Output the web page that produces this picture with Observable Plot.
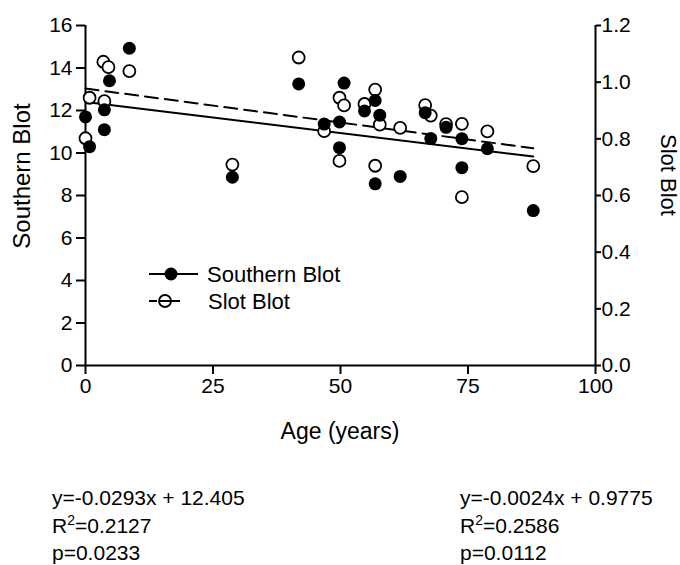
<!DOCTYPE html>
<html><head><meta charset="utf-8">
<script src="https://cdn.jsdelivr.net/npm/d3@7"></script>
<script src="https://cdn.jsdelivr.net/npm/@observablehq/plot@0.6"></script>
<style>body{margin:0;background:#fff} svg{display:block}</style>
</head><body><div id="chart"></div>
<script>
// ---- data ----
const southernAge   = [0, 0.8, 3.7, 3.7, 4.7, 8.6, 28.8, 41.8, 46.8, 49.8, 49.8, 50.7, 54.7, 56.8, 57.7, 56.8, 61.7, 66.6, 67.7, 70.7, 73.8, 73.8, 78.8, 87.8];
const southernValue = [11.7, 10.3, 12.03, 11.1, 13.4, 14.93, 8.86, 13.25, 11.36, 11.46, 10.25, 13.29, 11.98, 12.47, 11.78, 8.55, 8.9, 11.9, 10.68, 11.21, 10.67, 9.31, 10.2, 7.29];
const slotAge   = [0, 0.8, 3.5, 4.5, 3.7, 8.6, 28.8, 41.8, 46.8, 49.8, 49.8, 50.7, 54.7, 56.8, 57.7, 56.8, 61.7, 66.6, 67.7, 70.7, 73.8, 73.8, 78.8, 87.8];
const slotValue = [0.802, 0.945, 1.072, 1.053, 0.933, 1.039, 0.709, 1.087, 0.827, 0.945, 0.722, 0.918, 0.923, 0.974, 0.850, 0.705, 0.839, 0.919, 0.882, 0.852, 0.853, 0.594, 0.826, 0.704];

const xTicks = [0, 25, 50, 75, 100];
const leftTicks = [0, 2, 4, 6, 8, 10, 12, 14, 16];
const rightTicks = [0, 0.2, 0.4, 0.6, 0.8, 1.0, 1.2];
const seriesNames = ["Southern Blot", "Slot Blot"];
const fitSlope = ["-0.0293", "-0.0024"];
const fitIntercept = ["12.405", "0.9775"];
const fitR2 = ["0.2127", "0.2586"];
const fitP = ["0.0233", "0.0112"];

// ---- derived ----
const FONT = "'Liberation Sans', Arial, Helvetica, sans-serif";
const k = 16 / 1.2; // right-axis units -> left-axis units
const southern = southernAge.map((a, i) => ({age: a, value: southernValue[i]}));
const slot = slotAge.map((a, i) => ({age: a, value: slotValue[i] * k}));
const ageExtent = d3.extent(southernAge.concat(slotAge));
const fitLine = (i, f) => ageExtent.map(a => ({age: a, value: (+fitIntercept[i] + +fitSlope[i] * a) * f}));

function overlay(index, scales, values, dims) {
  const g = d3.create("svg:g").attr("font-family", FONT).attr("fill", "black").attr("text-anchor", "start");
  // axis titles
  g.append("text").attr("x", 340).attr("y", 439).attr("text-anchor", "middle").attr("font-size", 23).text("Age (years)");
  g.append("text").attr("transform", "translate(30,176) rotate(-90)").attr("text-anchor", "middle").attr("font-size", 24).text(seriesNames[0]);
  g.append("text").attr("transform", "translate(661,175) rotate(90)").attr("text-anchor", "middle").attr("font-size", 22).text(seriesNames[1]);
  // legend
  const L = g.append("g");
  L.append("line").attr("x1", 149).attr("x2", 198).attr("y1", 274).attr("y2", 274).attr("stroke", "black").attr("stroke-width", 2);
  L.append("circle").attr("cx", 171).attr("cy", 274).attr("r", 6.5).attr("fill", "black");
  L.append("text").attr("x", 207).attr("y", 274).attr("dy", "0.36em").attr("font-size", 22).text(seriesNames[0]);
  L.append("line").attr("x1", 149).attr("x2", 180).attr("y1", 301).attr("y2", 301).attr("stroke", "black").attr("stroke-width", 2).attr("stroke-dasharray", "8,3,25");
  L.append("circle").attr("cx", 165).attr("cy", 301).attr("r", 6).attr("fill", "none").attr("stroke", "black").attr("stroke-width", 1.8);
  L.append("text").attr("x", 208).attr("y", 301).attr("dy", "0.36em").attr("font-size", 22).text(seriesNames[1]);
  // regression statistics
  const xs = [52, 460];
  for (let i = 0; i < 2; i++) {
    const t = g.append("g").attr("font-size", 21);
    t.append("text").attr("x", xs[i]).attr("y", 505).text(`y=${fitSlope[i]}x + ${fitIntercept[i]}`);
    const r = t.append("text").attr("x", xs[i]).attr("y", 533);
    r.append("tspan").text("R");
    r.append("tspan").attr("font-size", 14).attr("dy", -8).text("2");
    r.append("tspan").attr("dy", 8).text(`=${fitR2[i]}`);
    t.append("text").attr("x", xs[i]).attr("y", 560).text(`p=${fitP[i]}`);
  }
  return g.node();
}

const chart = Plot.plot({
  width: 680,
  height: 565,
  marginLeft: 85,
  marginRight: 85,
  marginTop: 25,
  marginBottom: 200,
  style: {fontFamily: FONT, fontSize: "21px", background: "white", color: "black"},
  x: {domain: [0, 100]},
  y: {domain: [0, 16]},
  marks: [
    Plot.axisX({ticks: xTicks, tickSize: 9, tickPadding: 4, strokeWidth: 2, label: null}),
    Plot.axisY({ticks: leftTicks, tickSize: 9, tickPadding: 4, strokeWidth: 2, label: null}),
    Plot.axisY({anchor: "right", ticks: rightTicks.map(v => v * k), tickFormat: d => (d / k).toFixed(1), tickSize: 5, tickPadding: 1, strokeWidth: 2, label: null}),
    Plot.ruleX([0, 100], {y1: 0, y2: 16, strokeWidth: 2}),
    Plot.ruleY([0], {x1: 0, x2: 100, strokeWidth: 2}),
    Plot.line(fitLine(0, 1), {x: "age", y: "value", stroke: "black", strokeWidth: 2}),
    Plot.line(fitLine(1, k), {x: "age", y: "value", stroke: "black", strokeWidth: 2, strokeDasharray: "13,7"}),
    Plot.dot(slot, {x: "age", y: "value", r: 6, fill: "white", stroke: "black", strokeWidth: 1.8}),
    Plot.dot(southern, {x: "age", y: "value", r: 6.5, fill: "black", stroke: "none"}),
    overlay
  ]
});
document.getElementById("chart").append(chart);
</script>
</body></html>
